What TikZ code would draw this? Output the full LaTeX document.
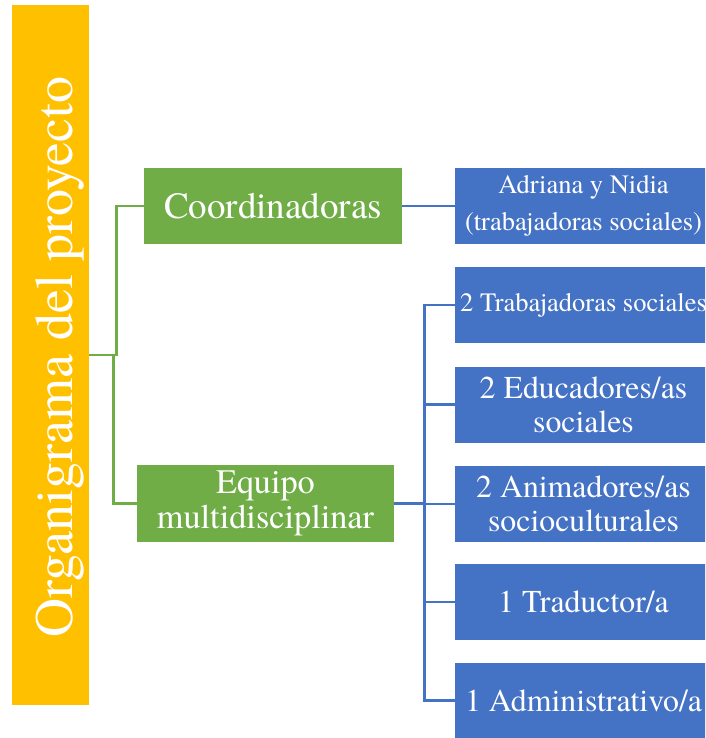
\documentclass[tikz,border=0pt]{standalone}
\usepackage{fontspec}
\IfFontExistsTF{texgyretermes-regular.otf}{\setmainfont{texgyretermes-regular.otf}}{\setmainfont{Liberation Serif}}
\definecolor{yel}{HTML}{FFC000}
\definecolor{grn}{HTML}{70AD47}
\definecolor{blu}{HTML}{4472C4}
\begin{document}
\begin{tikzpicture}[x=1pt,y=-1pt,
  box/.style={draw=none, inner sep=0pt, text=white, align=center, anchor=center},
  gbox/.style={box, fill=grn, minimum width=258pt, minimum height=76pt},
  bbox/.style={box, fill=blu, minimum width=257pt, minimum height=76pt},
  gline/.style={draw=grn, line width=2.6pt},
  bline/.style={draw=blu, line width=2.6pt}]
\useasboundingbox (0,0) rectangle (705,738);
\clip (0,0) rectangle (705,738);
% yellow bar
\node[box, fill=yel, minimum width=77pt, minimum height=700pt] (bar) at (50.5,355) {};
\node[text=white, inner sep=0pt, rotate=90, anchor=base,
      font=\fontsize{54}{60}\selectfont] (title) at (72,357) {Organigrama del proyecto};
% green boxes
\node[gbox, font=\fontsize{37}{40}\selectfont] (coord) at (273,206) {Coordinadoras};
\node[gbox, minimum width=257pt, minimum height=77pt, font=\fontsize{34.3}{35}\selectfont] (equipo) at (265.5,503.5) {Equipo\\multidisciplinar};
% blue boxes
\node[bbox, font=\fontsize{26.5}{37}\selectfont] (adri) at (583.5,206) {Adriana y Nidia\\(trabajadoras sociales)};
\node[bbox, font=\fontsize{26.5}{30}\selectfont] (t1) at (583.5,305) {2 Trabajadoras sociales};
\node[bbox, font=\fontsize{31.8}{34}\selectfont] (t2) at (583.5,404.5) {2 Educadores/as\\sociales};
\node[bbox, font=\fontsize{31.8}{34}\selectfont] (t3) at (583.5,504) {2 Animadores/as\\socioculturales};
\node[bbox, font=\fontsize{31.8}{34}\selectfont] (t4) at (583.5,602) {1 Traductor/a};
\node[bbox, font=\fontsize{31.8}{34}\selectfont] (t5) at (583.5,700.5) {1 Administrativo/a};
% connectors
\draw[gline] (bar.east) -- ++(27.5,0) |- (coord.west);
\draw[gline] (bar.east) -- ++(24,0) |- (equipo.west);
\draw[bline] (coord.east) -- (adri.west);
\foreach \n in {t1,t2,t3,t4,t5}
  \draw[bline] (equipo.east) -- ++(30,0) |- (\n.west);
\end{tikzpicture}
\end{document}
